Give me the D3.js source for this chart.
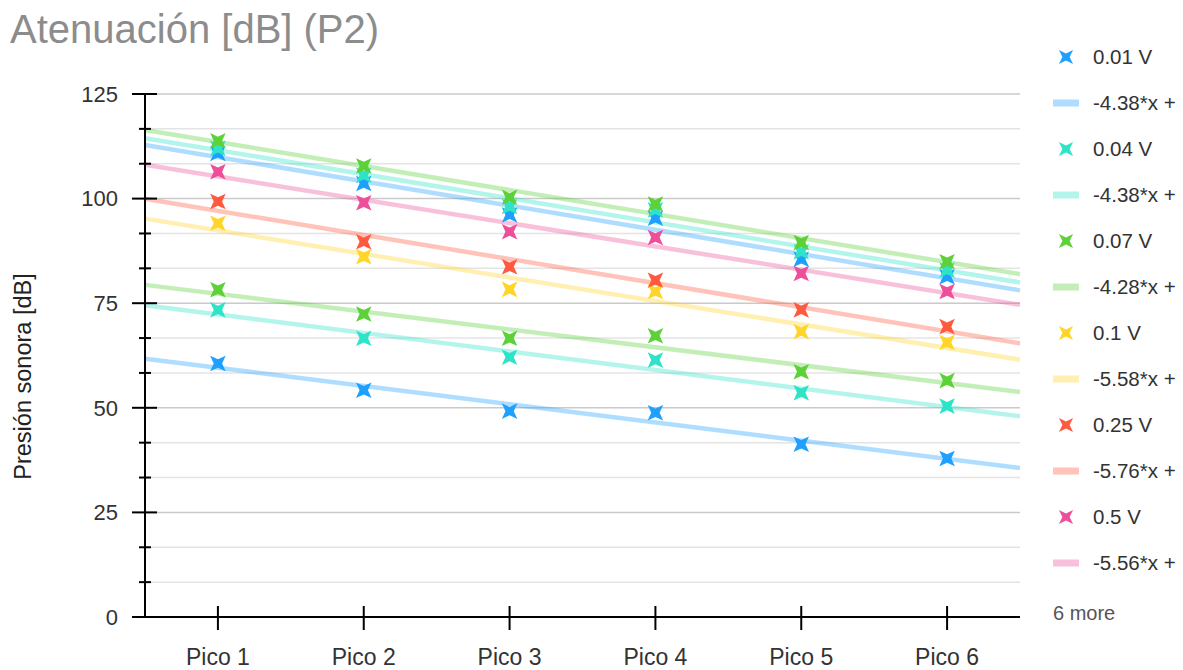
<!DOCTYPE html>
<html lang="es">
<head>
    <meta charset="UTF-8">
    <title>Atenuación [dB] (P2)</title>
    <style>
        body {
            margin: 0;
            background-color: #fff;
        }

        #chart {
            display: block;
            width: 1183px;
            height: 670px;
            font-family: "Liberation Sans", Arial, sans-serif;
        }

        .grid-major {
            stroke: #cacaca;
        }

        .grid-minor {
            stroke: #e4e4e4;
        }
    </style>
</head>
<body>
    <svg id="chart" width="1183" height="670"></svg>

    <script src="https://cdnjs.cloudflare.com/ajax/libs/d3/7.8.5/d3.min.js"></script>
    <script>
        // datos
        const categories = ['Pico 1', 'Pico 2', 'Pico 3', 'Pico 4', 'Pico 5', 'Pico 6'];

        const seriesNames = ['0.01 V', '0.04 V', '0.07 V', '0.1 V', '0.25 V', '0.5 V', '1 V', '2 V', '5 V'];

        const v001 = [60.6, 54.2, 49.2, 48.8, 41.3, 37.9];
        const v004 = [73.4, 66.6, 62.1, 61.4, 53.6, 50.4];
        const v007 = [78.2, 72.4, 66.6, 67.2, 58.6, 56.5];
        const v01 = [94.1, 86.1, 78.3, 77.8, 68.2, 65.6];
        const v025 = [99.3, 89.7, 83.7, 80.5, 73.4, 69.4];
        const v05 = [106.4, 99.0, 92.1, 90.7, 82.1, 77.8];
        const v1 = [110.8, 103.6, 96.1, 95.3, 85.5, 81.3];
        const v2 = [112.0, 105.6, 98.1, 97.3, 87.3, 82.9];
        const v5 = [113.8, 107.8, 100.3, 98.7, 89.5, 84.9];

        const trendLabels = ['-4.38*x +', '-4.38*x +', '-4.28*x +', '-5.58*x +', '-5.76*x +', '-5.56*x +'];

        const palette = ['#1fa0ff', '#2de3c8', '#5cd138', '#ffd52a', '#ff5a40', '#ee4f9b'];

        const yMajorTicks = [0, 25, 50, 75, 100, 125];

        const moreLabel = '6 more';
        const yTitle = 'Presión sonora [dB]';
        const chartTitle = 'Atenuación [dB] (P2)';

        const allValues = [v001, v004, v007, v01, v025, v05, v1, v2, v5];

        const series = seriesNames.map((name, i) => ({
            name: name,
            values: allValues[i],
            color: palette[i % palette.length]
        }));

        // minimos cuadrados sobre x = 1..6
        function linearFit (values) {
            let n = values.length;
            let xs = values.map((d, i) => i + 1);
            let mx = d3.mean(xs);
            let my = d3.mean(values);
            let num = 0, den = 0;
            for (let i = 0; i < n; i++) {
                num += (xs[i] - mx) * (values[i] - my);
                den += (xs[i] - mx) * (xs[i] - mx);
            }
            let slope = num / den;
            return { slope: slope, intercept: my - slope * mx };
        }

        const svg = d3.select('#chart');

        const plotLeft = 145, plotRight = 1020, plotTop = 94, plotBottom = 617;

        const x = d3.scalePoint()
            .domain(categories)
            .range([plotLeft, plotRight])
            .padding(0.5);

        const xNum = d3.scaleLinear()
            .domain([0.5, categories.length + 0.5])
            .range([plotLeft, plotRight]);

        const y = d3.scaleLinear()
            .domain([0, 125])
            .range([plotBottom, plotTop]);

        const yMinorTicks = d3.range(0, 125.01, 25 / 3).filter(v => Math.abs(v / 25 - Math.round(v / 25)) > 0.01);

        // titulo
        svg.append('text')
            .attr('x', 10)
            .attr('y', 43)
            .attr('font-size', 40)
            .attr('fill', '#8c8c8c')
            .text(chartTitle);

        // rejilla
        svg.append('g').selectAll('line')
            .data(yMinorTicks)
            .join('line')
            .attr('class', 'grid-minor')
            .attr('stroke-width', 1.5)
            .attr('x1', plotLeft)
            .attr('x2', plotRight)
            .attr('y1', d => y(d))
            .attr('y2', d => y(d));

        svg.append('g').selectAll('line')
            .data(yMajorTicks.filter(d => d > 0))
            .join('line')
            .attr('class', 'grid-major')
            .attr('stroke-width', 1.5)
            .attr('x1', plotLeft)
            .attr('x2', plotRight)
            .attr('y1', d => y(d))
            .attr('y2', d => y(d));

        // lineas de tendencia
        const trendG = svg.append('g');
        series.forEach(s => {
            let fit = linearFit(s.values);
            let x0 = xNum.domain()[0], x1 = xNum.domain()[1];
            trendG.append('line')
                .attr('x1', xNum(x0))
                .attr('y1', y(fit.intercept + fit.slope * x0))
                .attr('x2', xNum(x1))
                .attr('y2', y(fit.intercept + fit.slope * x1))
                .attr('stroke', s.color)
                .attr('stroke-opacity', 0.36)
                .attr('stroke-width', 4.5);
        });

        // marcador en forma de x (estrella de 4 puntas girada)
        function crossPath (r, ri) {
            let p = d3.path();
            for (let k = 0; k < 8; k++) {
                let a = Math.PI / 4 + k * Math.PI / 4;
                let rr = k % 2 === 0 ? r : ri;
                let px = rr * Math.cos(a), py = rr * Math.sin(a);
                if (k === 0) p.moveTo(px, py); else p.lineTo(px, py);
            }
            p.closePath();
            return p.toString();
        }
        const markerD = crossPath(11, 4.2);

        const pointsG = svg.append('g');
        series.forEach(s => {
            pointsG.append('g').selectAll('path')
                .data(s.values)
                .join('path')
                .attr('d', markerD)
                .attr('transform', (d, i) => `translate(${x(categories[i])},${y(d)})`)
                .attr('fill', s.color);
        });

        // eje y
        const yAxis = svg.append('g');
        yAxis.append('line')
            .attr('x1', plotLeft).attr('x2', plotLeft)
            .attr('y1', y(125)).attr('y2', y(0))
            .attr('stroke', '#000').attr('stroke-width', 2);
        yAxis.selectAll('.major')
            .data(yMajorTicks)
            .join('line')
            .attr('class', 'major')
            .attr('x1', plotLeft - 13).attr('x2', plotLeft + 12)
            .attr('y1', d => y(d)).attr('y2', d => y(d))
            .attr('stroke', '#000').attr('stroke-width', 2);
        yAxis.selectAll('.minor')
            .data(yMinorTicks)
            .join('line')
            .attr('class', 'minor')
            .attr('x1', plotLeft - 6).attr('x2', plotLeft + 6)
            .attr('y1', d => y(d)).attr('y2', d => y(d))
            .attr('stroke', '#000').attr('stroke-width', 2);
        yAxis.selectAll('text')
            .data(yMajorTicks)
            .join('text')
            .attr('x', 118)
            .attr('y', d => y(d))
            .attr('dy', '0.35em')
            .attr('text-anchor', 'end')
            .attr('font-size', 22)
            .attr('fill', '#333')
            .text(d => d);

        svg.append('text')
            .attr('transform', `translate(31,${(plotTop + plotBottom) / 2 + 21}) rotate(-90)`)
            .attr('text-anchor', 'middle')
            .attr('font-size', 23.5)
            .attr('fill', '#222')
            .text(yTitle);

        // eje x
        const xAxis = svg.append('g');
        xAxis.append('line')
            .attr('x1', plotLeft - 13).attr('x2', plotRight)
            .attr('y1', plotBottom).attr('y2', plotBottom)
            .attr('stroke', '#000').attr('stroke-width', 2);
        xAxis.selectAll('line.tick')
            .data(categories)
            .join('line')
            .attr('class', 'tick')
            .attr('x1', d => x(d)).attr('x2', d => x(d))
            .attr('y1', plotBottom - 11).attr('y2', plotBottom + 13)
            .attr('stroke', '#000').attr('stroke-width', 2);
        xAxis.selectAll('text')
            .data(categories)
            .join('text')
            .attr('x', d => x(d))
            .attr('y', 665)
            .attr('text-anchor', 'middle')
            .attr('font-size', 23)
            .attr('fill', '#333')
            .text(d => d);

        // leyenda
        const legendItems = [];
        series.slice(0, 6).forEach((s, i) => {
            legendItems.push({ type: 'point', label: s.name, color: s.color });
            legendItems.push({ type: 'trend', label: trendLabels[i], color: s.color });
        });

        const legend = svg.append('g');
        const item = legend.selectAll('g')
            .data(legendItems)
            .join('g')
            .attr('transform', (d, i) => `translate(1066,${57 + i * 46})`);

        item.filter(d => d.type === 'point')
            .append('path')
            .attr('d', crossPath(10, 3.6))
            .attr('fill', d => d.color);

        item.filter(d => d.type === 'trend')
            .append('rect')
            .attr('x', -13).attr('y', -3.5)
            .attr('width', 26).attr('height', 7)
            .attr('fill', d => d.color)
            .attr('fill-opacity', 0.36);

        item.append('text')
            .attr('x', 27)
            .attr('dy', '0.35em')
            .attr('font-size', 20.5)
            .attr('fill', '#333')
            .text(d => d.label);

        legend.append('text')
            .attr('x', 1053)
            .attr('y', 61 + legendItems.length * 46)
            .attr('dy', '0.35em')
            .attr('font-size', 20)
            .attr('fill', '#555')
            .text(moreLabel);
    </script>
</body>
</html>
